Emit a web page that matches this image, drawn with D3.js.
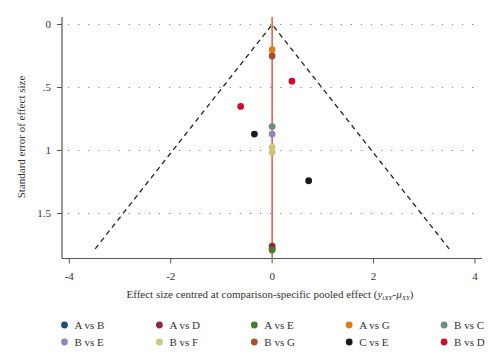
<!DOCTYPE html>
<html>
  <head>
    <script src="https://d3js.org/d3.v7.min.js"></script>
    <style>
      body { margin: 0; background-color: white; }
      text { font-family: 'Liberation Serif', 'DejaVu Serif', serif; fill: #333; }
    </style>
  </head>
  <body>
    <svg id="canvas" width="500" height="363"></svg>
    <script>
      // comparisons, in legend order
      const comparisons = ['A vs B', 'A vs D', 'A vs E', 'A vs G', 'B vs C',
                           'B vs E', 'B vs F', 'B vs G', 'C vs E', 'B vs D']
      const colors = ['#1d4a7a', '#8e2a3a', '#4c7a2a', '#e07c1e', '#6b8f80',
                      '#8d86c6', '#cfc47e', '#a0522d', '#1a1a1a', '#c8102e']

      // study points: comparison, centred effect, standard error
      const pointGroup = ['A vs B', 'A vs D', 'A vs E', 'A vs G', 'B vs C',
                          'B vs E', 'B vs F', 'B vs F', 'B vs G', 'C vs E', 'C vs E', 'B vs D', 'B vs D']
      const pointEffect = [0, 0, 0, 0, 0, 0, 0, 0, 0, -0.35, 0.72, 0.39, -0.62]
      const pointSE = [1.78, 1.76, 1.79, 0.20, 0.81, 0.87, 0.975, 1.015, 0.25, 0.87, 1.24, 0.45, 0.65]

      const xTicks = [-4, -2, 0, 2, 4]
      const yTicks = [0, 0.5, 1, 1.5]
      const yTickLabels = ['0', '.5', '1', '1.5']
      const funnelMaxSE = 1.78

      const svg = d3.select('#canvas')
      const x = d3.scaleLinear().domain([-4, 4]).range([69.3, 475])
      const y = d3.scaleLinear().domain([0, 1.5]).range([24.5, 213.5])
      const axisX = 62
      const axisY = 258.5

      // gridlines
      svg.append('g').selectAll('line').data(yTicks).join('line')
        .attr('x1', 68).attr('x2', 480)
        .attr('y1', d => y(d)).attr('y2', d => y(d))
        .attr('stroke', '#888')
        .attr('stroke-width', 1.2)
        .attr('stroke-dasharray', '1.2,8.9')

      // axes
      svg.append('line')
        .attr('x1', axisX).attr('x2', axisX).attr('y1', 17).attr('y2', axisY)
        .attr('stroke', '#555').attr('stroke-width', 1.2)
      svg.append('line')
        .attr('x1', axisX).attr('x2', 482).attr('y1', axisY).attr('y2', axisY)
        .attr('stroke', '#555').attr('stroke-width', 1.2)

      const yAxis = svg.append('g')
      yAxis.selectAll('line').data(yTicks).join('line')
        .attr('x1', axisX - 5).attr('x2', axisX)
        .attr('y1', d => y(d)).attr('y2', d => y(d))
        .attr('stroke', '#555')
      yAxis.selectAll('text').data(yTicks).join('text')
        .attr('x', axisX - 11).attr('y', d => y(d))
        .attr('dy', '0.35em')
        .attr('text-anchor', 'end')
        .attr('font-size', 11)
        .text((d, i) => yTickLabels[i])

      const xAxis = svg.append('g')
      xAxis.selectAll('line').data(xTicks).join('line')
        .attr('x1', d => x(d)).attr('x2', d => x(d))
        .attr('y1', axisY).attr('y2', axisY + 5)
        .attr('stroke', '#555')
      xAxis.selectAll('text').data(xTicks).join('text')
        .attr('x', d => x(d)).attr('y', 280)
        .attr('text-anchor', 'middle')
        .attr('font-size', 11)
        .text(d => d)

      // axis titles
      svg.append('text')
        .attr('transform', 'translate(25, 137) rotate(-90)')
        .attr('text-anchor', 'middle')
        .attr('font-size', 11)
        .text('Standard error of effect size')

      const xt = svg.append('text')
        .attr('x', 270).attr('y', 298)
        .attr('text-anchor', 'middle')
        .attr('font-size', 11)
      xt.append('tspan').text('Effect size centred at comparison-specific pooled effect (')
      xt.append('tspan').attr('font-style', 'italic').text('y')
      xt.append('tspan').attr('font-style', 'italic').attr('font-size', 7).attr('dy', 2).text('iXY')
      xt.append('tspan').attr('dy', -2).text('-')
      xt.append('tspan').attr('font-style', 'italic').text('\u03bc')
      xt.append('tspan').attr('font-style', 'italic').attr('font-size', 7).attr('dy', 2).text('XY')
      xt.append('tspan').attr('dy', -2).text(')')

      // funnel
      const funnel = [[-1.96 * funnelMaxSE, funnelMaxSE], [0, 0], [1.96 * funnelMaxSE, funnelMaxSE]]
      svg.append('path')
        .attr('d', d3.line().x(d => x(d[0])).y(d => y(d[1]))(funnel))
        .attr('fill', 'none')
        .attr('stroke', '#222')
        .attr('stroke-width', 1.3)
        .attr('stroke-dasharray', '5,4')

      // zero line
      svg.append('line')
        .attr('x1', x(0)).attr('x2', x(0)).attr('y1', 17).attr('y2', axisY)
        .attr('stroke', '#e0654e').attr('stroke-width', 1.6)

      // points
      const color = d3.scaleOrdinal().domain(comparisons).range(colors)
      svg.append('g').selectAll('circle').data(pointGroup).join('circle')
        .attr('cx', (d, i) => x(pointEffect[i]))
        .attr('cy', (d, i) => y(pointSE[i]))
        .attr('r', 3.4)
        .attr('fill', d => color(d))

      // legend
      const legend = svg.append('g').selectAll('g').data(comparisons).join('g')
        .attr('transform', (d, i) => `translate(${64.5 + (i % 5) * 94.9}, ${i < 5 ? 325 : 342})`)
      legend.append('circle').attr('r', 3.4).attr('fill', d => color(d))
      legend.append('text')
        .attr('x', 10).attr('dy', '0.35em')
        .attr('font-size', 11)
        .text(d => d)
    </script>
  </body>
</html>
